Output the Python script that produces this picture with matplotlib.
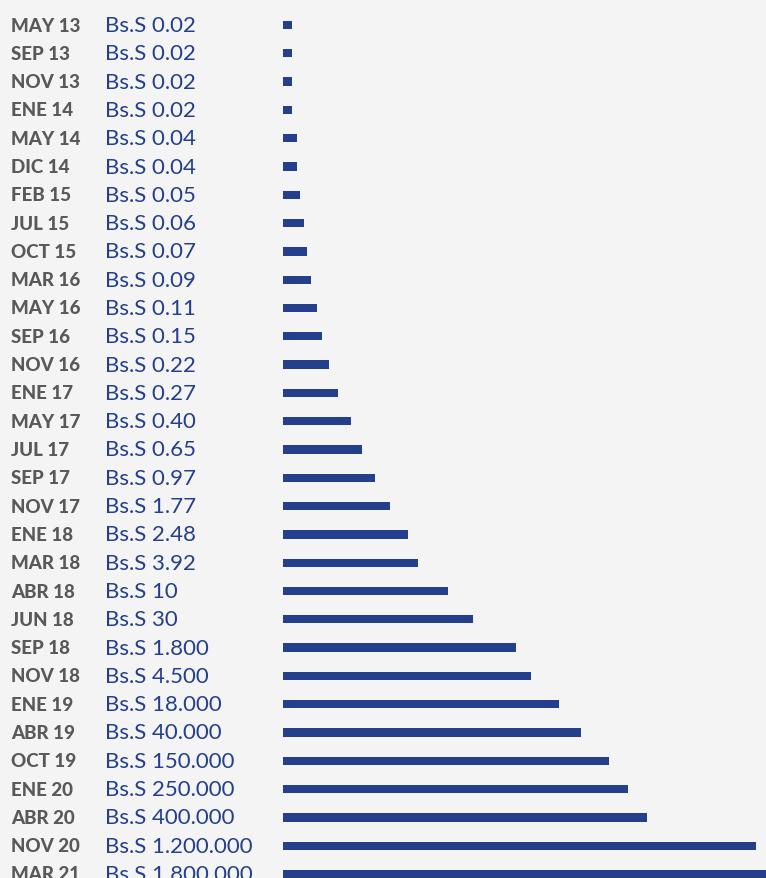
import matplotlib.pyplot as plt

# Datos
fechas = ["MAY 13", "SEP 13", "NOV 13", "ENE 14", "MAY 14", "DIC 14", "FEB 15",
          "JUL 15", "OCT 15", "MAR 16", "MAY 16", "SEP 16", "NOV 16", "ENE 17",
          "MAY 17", "JUL 17", "SEP 17", "NOV 17", "ENE 18", "MAR 18", "ABR 18",
          "JUN 18", "SEP 18", "NOV 18", "ENE 19", "ABR 19", "OCT 19", "ENE 20",
          "ABR 20", "NOV 20", "MAR 21"]
valores = ["0.02", "0.02", "0.02", "0.02", "0.04", "0.04", "0.05", "0.06", "0.07",
           "0.09", "0.11", "0.15", "0.22", "0.27", "0.40", "0.65", "0.97", "1.77",
           "2.48", "3.92", "10", "30", "1.800", "4.500", "18.000", "40.000",
           "150.000", "250.000", "400.000", "1.200.000", "1.800.000"]
# largo de barra (unidades arbitrarias, medido en la imagen)
largo = [9, 9, 9, 9, 14, 14, 17, 21, 24, 28, 34, 39, 46, 55, 68, 79, 92, 107,
         125, 135, 165, 190, 233, 248, 276, 298, 326, 345, 364, 473, 495]

azul = "#243f8b"
gris = "#58595b"
fondo = "#f4f4f4"

fig = plt.figure(figsize=(7.66, 8.79), dpi=100, facecolor=fondo)
ax = fig.add_axes([0, 0, 1, 1])
ax.set_facecolor(fondo)

y = list(range(len(fechas)))
ax.barh(y, largo, height=0.29, left=0, color=azul)

for i in y:
    ax.text(-272, i, fechas[i], ha="left", va="center", color=gris,
            fontsize=13.5, fontweight="black",
            family=["Lato", "DejaVu Sans"])
    ax.text(-178, i, "Bs.S " + valores[i], ha="left", va="center", color=azul,
            fontsize=16, family=["Lato", "DejaVu Sans"])

paso = 28.3
ax.set_xlim(-283, 483)
ax.set_ylim((879 - 26) / paso, -26 / paso)
ax.axis("off")

fig.savefig("out.png", dpi=100, facecolor=fondo)
